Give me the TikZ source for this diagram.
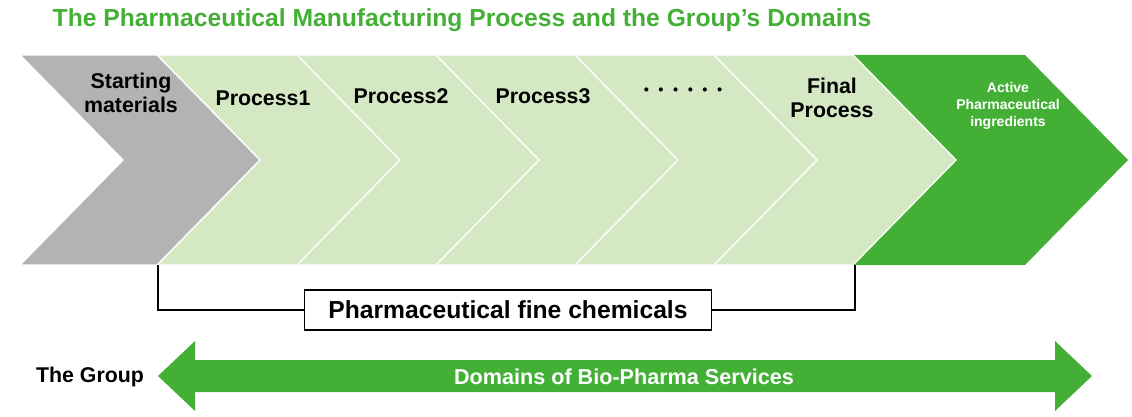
\documentclass[tikz,border=0pt]{standalone}
\usepackage{fontspec}
\setmainfont{Liberation Sans}
\newfontfamily\cjkjp{Noto Sans CJK JP}
\definecolor{cgray}{HTML}{B3B3B3}
\definecolor{clight}{HTML}{D5E8C4}
\definecolor{cgreen}{HTML}{43B035}
\begin{document}
\begin{tikzpicture}[x=0.75pt,y=-0.75pt,
  lbl/.style={font=\bfseries\fontsize{16}{18.5}\selectfont,align=center,text=black},
  wlbl/.style={font=\bfseries\fontsize{10.5}{12.5}\selectfont,align=center,text=white}]
\useasboundingbox (0,0) rectangle (1132,417);
\node[anchor=west,text=cgreen,font=\bfseries\fontsize{18.5}{21}\selectfont] (title) at (48,20) {The Pharmaceutical Manufacturing Process and the Group’s Domains};
% final green chevron
\fill[cgreen] (852,55)--(1025,55)--(1128,160)--(1025,265)--(852,265)--(955,160)--cycle;
% process chevrons, right to left
\foreach \L in {713,574,435,296,157}{
  \filldraw[fill=clight,draw=white,line width=1pt] (\L,55)--(\L+140,55)--(\L+243,160)--(\L+140,265)--(\L,265)--(\L+103,160)--cycle;
}
\filldraw[fill=cgray,draw=white,line width=1pt] (20,55)--(157,55)--(260,160)--(157,265)--(20,265)--(123,160)--cycle;
\node[lbl] (s) at (131,93) {Starting\\materials};
\node[lbl] (p1) at (263,98) {Process1};
\node[lbl] (p2) at (401,96) {Process2};
\node[lbl] (p3) at (543,96) {Process3};
\node[lbl,font=\cjkjp\bfseries\fontsize{11}{13}\selectfont] (pd) at (683,92) {・・・・・・};
\node[lbl] (pf) at (832,98) {Final\\Process};
\node[wlbl] (api) at (1008,106) {Active\\Pharmaceutical\\ingredients};
% bracket
\node[draw=black,line width=1pt,minimum width=407*0.75pt,minimum height=40*0.75pt,lbl,font=\bfseries\fontsize{18.5}{21}\selectfont] (pfc) at (508,310) {Pharmaceutical fine chemicals};
\coordinate (bl) at (158,265);
\coordinate (br) at (855,265);
\draw[line width=1pt] (bl) |- (pfc.west);
\draw[line width=1pt] (br) |- (pfc.east);
% bottom double arrow
\fill[cgreen] (158,376)--(195,341)--(195,360)--(1055,360)--(1055,341)--(1092,376)--(1055,411)--(1055,392)--(195,392)--(195,411)--cycle;
\node[wlbl,font=\bfseries\fontsize{16.2}{18}\selectfont] (dom) at (624,377) {Domains of Bio-Pharma Services};
\node[lbl,font=\bfseries\fontsize{16}{18}\selectfont] (grp) at (90,377) {The Group};
\end{tikzpicture}
\end{document}
